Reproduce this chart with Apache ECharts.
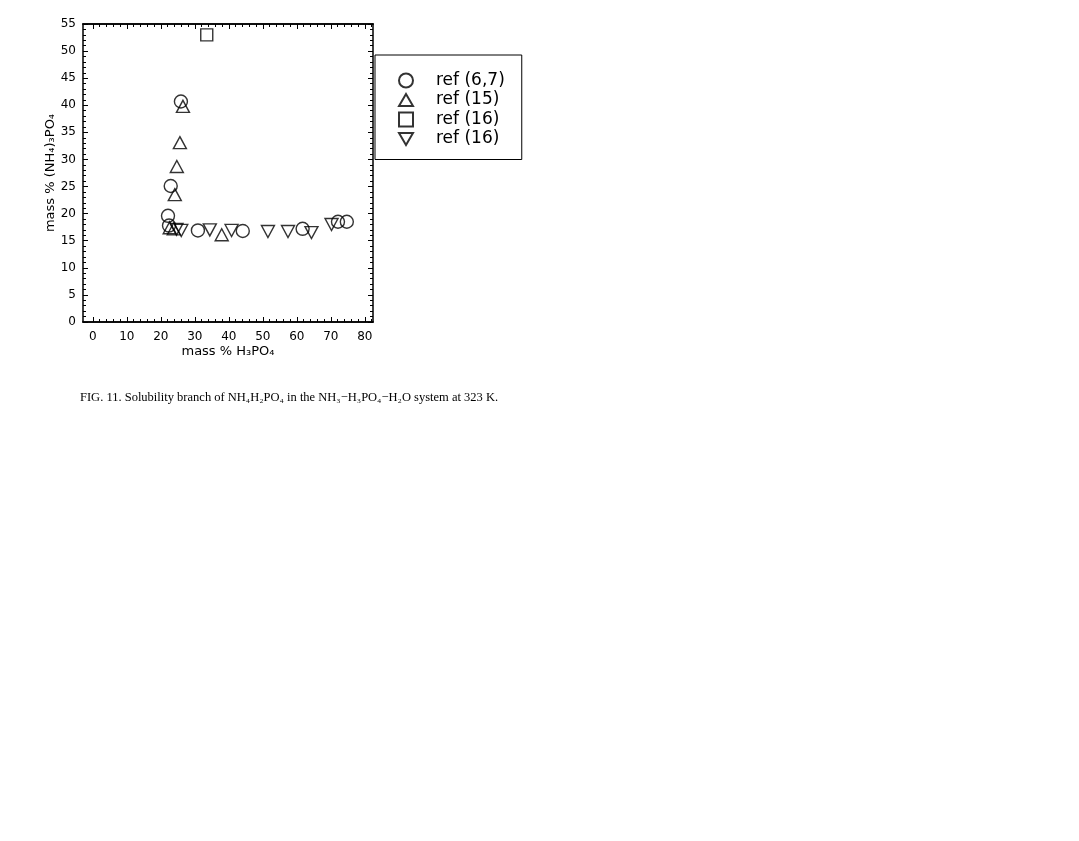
<!DOCTYPE html>
<html>
<head>
<meta charset="utf-8">
<script src="https://cdn.jsdelivr.net/npm/echarts@6/dist/echarts.min.js"></script>
<style>
html,body{margin:0;padding:0;background:#fff;}
#c{width:1079px;height:841px;}
</style>
</head>
<body>
<div id="c"></div>
<script>
// ---- data (mass % H3PO4, mass % (NH4)3PO4) ----
const xTicks = [0, 10, 20, 30, 40, 50, 60, 70, 80];
const xMinorTicks = [0,2,4,6,8,10,12,14,16,18,20,22,24,26,28,30,32,34,36,38,40,42,44,46,48,50,52,54,56,58,60,62,64,66,68,70,72,74,76,78,80,82];
const seriesNames = ['ref (6,7)', 'ref (15)', 'ref (16)', 'ref (16)\u200B'];
const ref67 = [[25.9,40.7],[22.9,25.1],[22.1,19.6],[22.4,17.8],[30.9,16.9],[44.1,16.8],[61.7,17.2],[72.1,18.5],[74.7,18.5]];
const ref15 = [[26.5,39.8],[25.6,33.1],[24.7,28.7],[24.1,23.5],[22.6,17.4],[23.8,17.2],[37.9,16.1]];
const ref16sq = [[33.5,53.0]];
const ref16dt = [[24.6,17.1],[26.0,16.9],[34.4,17.0],[40.8,16.9],[51.5,16.7],[57.4,16.7],[64.3,16.5],[70.2,18.0]];
const caption = 'FIG. 11. Solubility branch of NH\u2084H\u2082PO\u2084 in the NH\u2083\u2212H\u2083PO\u2084\u2212H\u2082O system at 323 K.';

const chart = echarts.init(document.getElementById('c'), null, {renderer:'canvas'});
const FONT = 'DejaVu Sans';
const mk = {color:'rgba(0,0,0,0)', borderColor:'#000', borderWidth:1.4};
const UP = 'path://M10,0 L20,17.3 L0,17.3 Z';
const DOWN = 'path://M0,0 L20,0 L10,17.3 Z';
const XMIN = -2.9, XMAX = 82.4;
function xax(pos, major, labels, name){
  return {
    type:'value', position:pos, min:XMIN, max:XMAX,
    name: name || '', nameLocation:'middle', nameGap:23,
    nameTextStyle:{fontFamily:FONT, fontSize:13, color:'#000'},
    axisLine:{show:true, onZero:false, lineStyle:{color:'#000', width:1.5}},
    axisTick:{show:true, inside:true, length: major?5:3, customValues: major?xTicks:xMinorTicks, lineStyle:{color:'#000'}},
    axisLabel:{show:labels, customValues:xTicks, margin:9, fontFamily:FONT, fontSize:12, color:'#000'},
    splitLine:{show:false}
  };
}
function yax(pos, labels, name){
  return {
    type:'value', position:pos, min:0, max:55, interval:5,
    name: name || '', nameLocation:'middle', nameGap:22,
    nameTextStyle:{fontFamily:FONT, fontSize:13, color:'#000'},
    axisLine:{show:true, onZero:false, lineStyle:{color:'#000', width:1.5}},
    axisTick:{show:true, inside:true, length:5, lineStyle:{color:'#000'}},
    minorTick:{show:true, splitNumber:5, length:3, lineStyle:{color:'#000'}},
    axisLabel:{show:labels, margin:7, fontFamily:FONT, fontSize:12, color:'#000'},
    splitLine:{show:false}
  };
}
chart.setOption({
  animation:false,
  backgroundColor:'#fff',
  title:{text:caption, left:75, top:386, textStyle:{fontFamily:'Liberation Serif', fontSize:12.5, fontWeight:'normal', color:'#000'}},
  grid:{left:83, top:24, width:290, height:298},
  legend:{
    orient:'vertical', left:375, top:55,
    padding:[17, 17, 12, 23], itemGap:2.5, itemWidth:14, itemHeight:14,
    borderColor:'#000', borderWidth:1, backgroundColor:'#fff',
    data: seriesNames,
    formatter: n => n.replace('\u200B',''),
    textStyle:{fontFamily:FONT, fontSize:17, color:'#000', padding:[0,0,0,18], lineHeight:15}
  },
  xAxis:[
    xax('bottom', true, true, 'mass % H\u2083PO\u2084'),
    xax('bottom', false, false),
    xax('top', true, false),
    xax('top', false, false)
  ],
  yAxis:[
    yax('left', true, 'mass % (NH\u2084)\u2083PO\u2084'),
    yax('right', false)
  ],
  series:[
    {name:seriesNames[0], type:'scatter', data:ref67, symbol:'circle', symbolSize:13, itemStyle:mk},
    {name:seriesNames[1], type:'scatter', data:ref15, symbol:UP, symbolSize:[13,12], itemStyle:mk},
    {name:seriesNames[2], type:'scatter', data:ref16sq, symbol:'rect', symbolSize:12, itemStyle:mk},
    {name:seriesNames[3], type:'scatter', data:ref16dt, symbol:DOWN, symbolSize:[13,12], itemStyle:mk}
  ]
});
</script>
</body>
</html>
